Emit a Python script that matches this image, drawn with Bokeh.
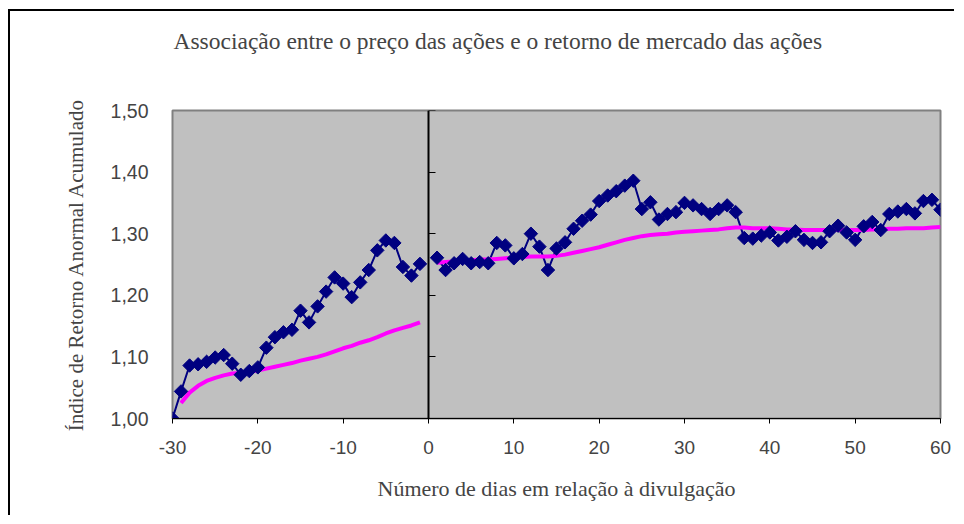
from bokeh.plotting import figure
from bokeh.models import FixedTicker, LinearAxis, Range1d, CustomJSTickFormatter
from bokeh.embed import file_html
from bokeh.resources import INLINE

# ---- data ----
days_pre = list(range(-30, 0))
abnormal_pre = [1.000, 1.044, 1.086, 1.088, 1.092, 1.099, 1.103, 1.089, 1.071, 1.077,
                1.083, 1.115, 1.132, 1.140, 1.144, 1.175, 1.156, 1.182, 1.206, 1.229,
                1.219, 1.197, 1.221, 1.241, 1.273, 1.289, 1.285, 1.246, 1.232, 1.251]
days_post = list(range(1, 61))
abnormal_post = [1.261, 1.241, 1.252, 1.259, 1.252, 1.254, 1.252, 1.285, 1.281, 1.260,
                 1.267, 1.300, 1.279, 1.241, 1.276, 1.286, 1.308, 1.321, 1.331, 1.353,
                 1.362, 1.369, 1.378, 1.386, 1.340, 1.351, 1.323, 1.332, 1.335, 1.350,
                 1.346, 1.340, 1.332, 1.340, 1.346, 1.335, 1.293, 1.292, 1.297, 1.302,
                 1.289, 1.295, 1.304, 1.290, 1.285, 1.286, 1.304, 1.313, 1.302, 1.290,
                 1.312, 1.319, 1.306, 1.332, 1.336, 1.340, 1.333, 1.353, 1.355, 1.339]
market_days_pre = list(range(-29, 0))
market_pre = [1.025, 1.042, 1.053, 1.061, 1.066, 1.070, 1.073, 1.074, 1.076, 1.078,
              1.081, 1.084, 1.087, 1.090, 1.094, 1.097, 1.100, 1.104, 1.109, 1.114,
              1.118, 1.123, 1.127, 1.132, 1.138, 1.143, 1.147, 1.151, 1.156]
market_days_post = list(range(1, 61))
market_post = [1.253, 1.254, 1.255, 1.256, 1.257, 1.258, 1.258, 1.259, 1.260, 1.261,
               1.262, 1.263, 1.263, 1.263, 1.264, 1.266, 1.269, 1.272, 1.275, 1.278,
               1.282, 1.286, 1.290, 1.293, 1.296, 1.298, 1.299, 1.300, 1.302, 1.303,
               1.304, 1.305, 1.306, 1.307, 1.309, 1.310, 1.310, 1.309, 1.309, 1.309,
               1.308, 1.307, 1.307, 1.306, 1.306, 1.306, 1.306, 1.306, 1.306, 1.306,
               1.306, 1.307, 1.307, 1.308, 1.308, 1.309, 1.309, 1.309, 1.310, 1.311]
x_ticks = [-30, -20, -10, 0, 10, 20, 30, 40, 50, 60]
y_ticks = [1.00, 1.10, 1.20, 1.30, 1.40, 1.50]

title_text = "Associação entre o preço das ações e o retorno de mercado das ações"
x_label = "Número de dias em relação à divulgação"
y_label = "Índice de Retorno Anormal Acumulado"

SERIF = "Liberation Serif"
SANS = "Liberation Sans"

p = figure(width=946, height=506, output_backend="svg", toolbar_location=None,
           x_range=Range1d(-30, 60), y_range=Range1d(1.0, 1.5),
           min_border_left=162, min_border_right=16, min_border_top=99, min_border_bottom=99,
           background_fill_color="#C0C0C0", border_fill_color="white")
p.styles = {"border-top": "2px solid black", "border-left": "2px solid black",
            "margin-left": "8px", "margin-top": "9px"}

p.outline_line_color = "#808080"
p.outline_line_width = 2
p.xgrid.visible = False
p.ygrid.visible = False

xa = p.below[0]
ya = p.left[0]

# invisible spacer between the frame and the title (ticks hidden, labels empty)
spacer = LinearAxis(ticker=FixedTicker(ticks=x_ticks),
                    formatter=CustomJSTickFormatter(code="return '';"),
                    axis_line_color=None,
                    major_tick_line_color=None, minor_tick_line_color=None,
                    major_tick_in=0, major_tick_out=52, minor_tick_out=0,
                    major_label_standoff=0)
p.add_layout(spacer, "above")

p.title.text = title_text
p.title.text_font = SERIF
p.title.text_font_size = "23.5px"
p.title.text_font_style = "normal"
p.title.align = "left"
p.title.offset = 1
p.title.standoff = 10

xa.ticker = FixedTicker(ticks=x_ticks)
xa.formatter = CustomJSTickFormatter(code="return tick.toString();")
xa.axis_line_color = "black"
xa.axis_line_width = 1
xa.major_tick_in = 0
xa.major_tick_out = 5
xa.major_tick_line_color = "black"
xa.minor_tick_line_color = None
xa.major_label_text_font = SANS
xa.major_label_text_font_size = "19px"
xa.major_label_standoff = 17
xa.axis_label = x_label
xa.axis_label_text_font = SERIF
xa.axis_label_text_font_size = "22px"
xa.axis_label_text_font_style = "normal"
xa.axis_label_standoff = 19

ya.ticker = FixedTicker(ticks=y_ticks)
ya.formatter = CustomJSTickFormatter(code="return tick.toFixed(2).replace('.', ',');")
ya.axis_line_color = None
ya.major_tick_line_color = None
ya.minor_tick_line_color = None
ya.major_label_text_font = SANS
ya.major_label_text_font_size = "19.5px"
ya.major_label_standoff = 18
ya.axis_label = y_label
ya.axis_label_text_font = SERIF
ya.axis_label_text_font_size = "21px"
ya.axis_label_text_font_style = "normal"
ya.axis_label_standoff = 20

zero_axis = LinearAxis(fixed_location=0, ticker=FixedTicker(ticks=y_ticks),
                       formatter=CustomJSTickFormatter(code="return '';"),
                       axis_line_color="black", axis_line_width=2,
                       major_tick_in=0, major_tick_out=7, major_tick_line_color="black",
                       minor_tick_line_color=None, major_label_standoff=0)
p.add_layout(zero_axis, "right")

NAVY = "#000080"
MAGENTA = "#FF00FF"
for xs, ys in ((days_pre, abnormal_pre), (days_post, abnormal_post)):
    p.line(xs, ys, line_color=NAVY, line_width=2)
for xs, ys in ((market_days_pre, market_pre), (market_days_post, market_post)):
    p.line(xs, ys, line_color=MAGENTA, line_width=4)
for xs, ys in ((days_pre, abnormal_pre), (days_post, abnormal_post)):
    p.scatter(xs, ys, marker="square", angle=0.785398, size=9.5,
              fill_color=NAVY, line_color=NAVY)

open("out.html", "w").write(file_html(p, INLINE))
